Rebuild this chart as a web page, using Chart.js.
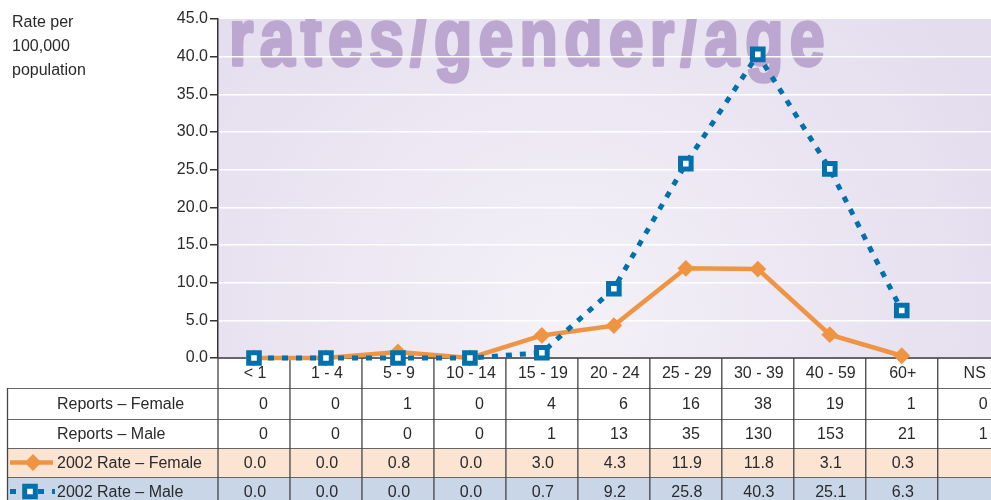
<!DOCTYPE html>
<html>
<head>
<meta charset="utf-8">
<script src="https://cdn.jsdelivr.net/npm/chart.js@4/dist/chart.umd.min.js"></script>
<style>
  body { margin: 0; background: #fff; }
  #wrap { width: 991px; height: 500px; position: relative; }
</style>
</head>
<body>
<div id="wrap"><canvas id="rateChart"></canvas></div>
<script>
const categories = ['< 1', '1 - 4', '5 - 9', '10 - 14', '15 - 19', '20 - 24', '25 - 29', '30 - 39', '40 - 59', '60+', 'NS'];
const reportsFemale = [0, 0, 1, 0, 4, 6, 16, 38, 19, 1, 0];
const reportsMale = [0, 0, 0, 0, 1, 13, 35, 130, 153, 21, 1];
const rateFemale = [0.0, 0.0, 0.8, 0.0, 3.0, 4.3, 11.9, 11.8, 3.1, 0.3, null];
const rateMale = [0.0, 0.0, 0.0, 0.0, 0.7, 9.2, 25.8, 40.3, 25.1, 6.3, null];
const yMin = 0, yMax = 45, yStep = 5;
const axisTitle = ['Rate per', '100,000', 'population'];
const watermark = 'rates/gender/age';
const rowLabels = ['Reports \u2013 Female', 'Reports \u2013 Male', '2002 Rate \u2013 Female', '2002 Rate \u2013 Male'];

const FONT = '"Liberation Sans", Arial, sans-serif';
const ORANGE = '#ef9442';
const BLUE = '#0071ad';

const toPoints = arr => arr.map((v, i) => ({ x: i, y: v }));

// background + big watermark behind the grid
const backdrop = {
    id: 'backdrop',
    beforeDraw(chart) {
        const { ctx, chartArea: a } = chart;
        ctx.save();
        const g = ctx.createRadialGradient(a.left + a.width * 0.45, a.bottom - 40, 20, a.left + a.width * 0.45, a.bottom - 40, a.width * 0.6);
        g.addColorStop(0, '#f3f0f7');
        g.addColorStop(1, '#e4ddee');
        ctx.fillStyle = g;
        ctx.fillRect(a.left, a.top, a.right - a.left, a.bottom - a.top);

        ctx.beginPath();
        ctx.rect(a.left, a.top, a.right - a.left, a.bottom - a.top);
        ctx.clip();
        ctx.font = 'bold 80px ' + FONT;
        ctx.fillStyle = '#bca7d1';
        ctx.strokeStyle = '#bca7d1';
        ctx.lineWidth = 3.5;
        ctx.lineJoin = 'round';
        ctx.textBaseline = 'alphabetic';
        if ('letterSpacing' in ctx) ctx.letterSpacing = '8px';
        const w = ctx.measureText(watermark).width;
        ctx.translate(a.left + 11, 65);
        ctx.scale(602 / w, 1);
        ctx.fillText(watermark, 0, 0);
        ctx.strokeText(watermark, 0, 0);
        ctx.restore();
    }
};

// data table under the plot, columns taken from the x scale
const dataTable = {
    id: 'dataTable',
    beforeDatasetsDraw(chart) {
        const { ctx, chartArea: a, scales } = chart;
        const x = scales.x;
        const top = a.bottom;
        const rowTops = [top, top + 30, top + 61, top + 90, top + 119, top + 148];
        const labelLeft = 7;
        ctx.save();

        // header row white, then row fills
        ctx.fillStyle = '#fff';
        ctx.fillRect(a.left, top, chart.width - a.left, rowTops[1] - top);
        ctx.fillRect(labelLeft, rowTops[1], chart.width, rowTops[3] - rowTops[1]);
        ctx.fillStyle = '#fbe4d2';
        ctx.fillRect(labelLeft, rowTops[3], chart.width, rowTops[4] - rowTops[3]);
        ctx.fillStyle = '#c9d6e8';
        ctx.fillRect(labelLeft, rowTops[4], chart.width, rowTops[5] - rowTops[4]);

        // horizontal lines
        ctx.strokeStyle = '#666';
        ctx.lineWidth = 1;
        for (let r = 1; r < 5; r++) {
            ctx.beginPath();
            ctx.moveTo(labelLeft, rowTops[r] + 0.5);
            ctx.lineTo(chart.width, rowTops[r] + 0.5);
            ctx.stroke();
        }
        ctx.strokeStyle = '#333';
        ctx.lineWidth = 1.5;
        ctx.beginPath();
        ctx.moveTo(a.left, top);
        ctx.lineTo(chart.width, top);
        ctx.stroke();

        // vertical lines
        ctx.strokeStyle = '#444';
        ctx.lineWidth = 1.3;
        for (let i = 0; i <= categories.length; i++) {
            const px = x.getPixelForValue(i - 0.5);
            ctx.beginPath();
            ctx.moveTo(px, top);
            ctx.lineTo(px, 500);
            ctx.stroke();
        }
        ctx.beginPath();
        ctx.moveTo(labelLeft + 0.5, rowTops[1]);
        ctx.lineTo(labelLeft + 0.5, 500);
        ctx.stroke();

        // texts
        ctx.fillStyle = '#2a2a2a';
        ctx.font = '16px ' + FONT;
        ctx.textBaseline = 'middle';
        const mid = r => (rowTops[r] + rowTops[r + 1]) / 2 + 1;
        categories.forEach((c, i) => {
            const cx = x.getPixelForValue(i);
            ctx.textAlign = 'center';
            ctx.fillText(c, cx + 1, mid(0));
            ctx.textAlign = 'right';
            ctx.fillText(String(reportsFemale[i]), cx + 14, mid(1));
            ctx.fillText(String(reportsMale[i]), cx + 14, mid(2));
            ctx.textAlign = 'center';
            if (rateFemale[i] !== null) ctx.fillText(rateFemale[i].toFixed(1), cx + 1, mid(3));
            if (rateMale[i] !== null) ctx.fillText(rateMale[i].toFixed(1), cx + 1, mid(4));
        });
        ctx.textAlign = 'left';
        rowLabels.forEach((t, r) => ctx.fillText(t, 57, mid(r + 1)));

        // legend keys in the rate rows
        const ds = chart.data.datasets;
        const fy = mid(3) - 1, my = mid(4) - 1;
        ctx.strokeStyle = ds[0].borderColor;
        ctx.lineWidth = ds[0].borderWidth;
        ctx.beginPath();
        ctx.moveTo(10, fy);
        ctx.lineTo(53, fy);
        ctx.stroke();
        ctx.fillStyle = ds[0].pointBackgroundColor;
        ctx.lineWidth = ds[0].pointBorderWidth;
        Chart.helpers.drawPoint(ctx, { pointStyle: ds[0].pointStyle, radius: ds[0].pointRadius, rotation: 0, borderWidth: ds[0].pointBorderWidth }, 33, fy);

        ctx.strokeStyle = ds[1].borderColor;
        ctx.lineWidth = ds[1].borderWidth;
        ctx.setLineDash(ds[1].borderDash);
        ctx.beginPath();
        ctx.moveTo(10, my);
        ctx.lineTo(55, my);
        ctx.stroke();
        ctx.setLineDash([]);
        ctx.fillStyle = ds[1].pointBackgroundColor;
        ctx.strokeStyle = ds[1].pointBorderColor;
        ctx.lineWidth = ds[1].pointBorderWidth;
        Chart.helpers.drawPoint(ctx, { pointStyle: ds[1].pointStyle, radius: ds[1].pointRadius, rotation: 0, borderWidth: ds[1].pointBorderWidth }, 30, my);

        ctx.restore();
    },
    afterDraw(chart) {
        const { ctx } = chart;
        ctx.save();
        ctx.fillStyle = '#2a2a2a';
        ctx.font = '16px ' + FONT;
        ctx.textAlign = 'left';
        ctx.textBaseline = 'alphabetic';
        axisTitle.forEach((t, i) => ctx.fillText(t, 12, 27 + i * 24));
        ctx.restore();
    }
};

new Chart(document.getElementById('rateChart'), {
    type: 'line',
    data: {
        datasets: [{
            label: '2002 Rate \u2013 Female',
            data: toPoints(rateFemale),
            borderColor: ORANGE,
            borderWidth: 4.5,
            pointStyle: 'rectRot',
            pointRadius: 7,
            pointBorderWidth: 2,
            pointBackgroundColor: ORANGE,
            pointBorderColor: ORANGE,
            tension: 0,
            clip: false,
            order: 1
        }, {
            label: '2002 Rate \u2013 Male',
            data: toPoints(rateMale),
            borderColor: BLUE,
            borderWidth: 5,
            borderDash: [6, 8],
            borderCapStyle: 'butt',
            pointStyle: 'rect',
            pointRadius: 7.5,
            pointBorderWidth: 5,
            pointBackgroundColor: '#fff',
            pointBorderColor: BLUE,
            tension: 0,
            clip: false,
            order: 0
        }]
    },
    options: {
        responsive: true,
        maintainAspectRatio: false,
        animation: false,
        layout: { autoPadding: false, padding: { top: 19, bottom: 142, left: 0, right: 0 } },
        plugins: { legend: { display: false }, tooltip: { enabled: false } },
        scales: {
            x: {
                type: 'linear',
                display: false,
                min: -0.5,
                max: 10.24
            },
            y: {
                min: yMin,
                max: yMax,
                afterFit: s => { s.width = 218; },
                ticks: {
                    stepSize: yStep,
                    color: '#2a2a2a',
                    font: { family: FONT, size: 16 },
                    padding: 2,
                    callback: v => v.toFixed(1)
                },
                grid: {
                    color: c => (c.tick && c.tick.value === yMax) ? 'rgba(0,0,0,0)' : '#ffffff',
                    lineWidth: 1.5,
                    tickColor: '#333',
                    tickLength: 8
                },
                border: { display: true, color: '#333', width: 1.5 }
            }
        }
    },
    plugins: [backdrop, dataTable]
});
</script>
</body>
</html>
